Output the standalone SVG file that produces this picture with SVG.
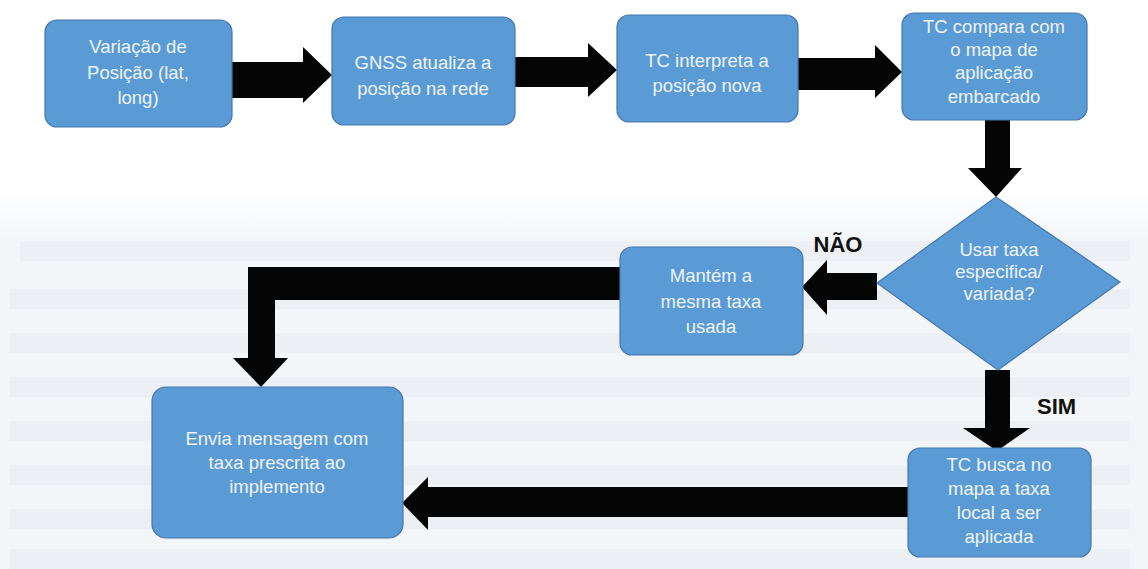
<svg xmlns="http://www.w3.org/2000/svg" width="1148" height="569" viewBox="0 0 1148 569">
<defs>
<linearGradient id="bg" x1="0" y1="0" x2="0" y2="1">
<stop offset="0" stop-color="#ffffff"/>
<stop offset="1" stop-color="#f3f6f9"/>
</linearGradient>
</defs>
<style>
.box{fill:#5b9bd5;stroke:#4577ad;stroke-width:1.2}
.t{font-family:"Liberation Sans",Arial,sans-serif;font-size:18.5px;fill:#eef3fa;text-anchor:middle}
.lbl{font-family:"Liberation Sans",Arial,sans-serif;font-size:22px;font-weight:bold;fill:#111}
.arr{fill:#050505}
.band{fill:#e2e7ed;opacity:0.4}
</style>
<rect width="1148" height="569" fill="#ffffff"/>
<g id="background">
<rect x="0" y="190" width="1148" height="50" fill="url(#bg)"/>
<rect x="0" y="240" width="1148" height="329" fill="#f3f6f9"/>
<rect class="band" x="20" y="241" width="1110" height="20"/>
<rect class="band" x="10" y="289" width="1120" height="20"/>
<rect class="band" x="10" y="333" width="1120" height="20"/>
<rect class="band" x="10" y="377" width="1120" height="20"/>
<rect class="band" x="10" y="421" width="1120" height="20"/>
<rect class="band" x="10" y="465" width="1120" height="20"/>
<rect class="band" x="10" y="509" width="1120" height="20"/>
<rect class="band" x="10" y="549" width="1120" height="20"/>
</g>
<g id="connectors">
<polygon class="arr" points="232,62 303,62 303,47 332,75 303,103 303,98 232,98"/>
<polygon class="arr" points="515,57 588,57 588,43 617,70 588,97 588,87 515,87"/>
<polygon class="arr" points="798,58 875,58 875,45 902,72 875,98 875,90 798,90"/>
<polygon class="arr" points="985,120 1010,120 1010,168 1022,168 996,197 968,168 985,168"/>
<polygon class="arr" points="877,273 827,273 827,260 802,287 827,315 827,300 877,300"/>
<polygon class="arr" points="620,267 248,267 248,358 233,358 261,387 288,358 275,358 275,300 620,300"/>
<polygon class="arr" points="985,370 1010,370 1010,428 1030,428 997,451 963,428 985,428"/>
<polygon class="arr" points="908,487 428,487 428,477 402,503 428,530 428,517 908,517"/>
<text class="lbl" x="838" y="252" text-anchor="middle">NÃO</text>
<text class="lbl" x="1037" y="414">SIM</text>
</g>
<g id="n1">
<rect class="box" x="45" y="20" width="187" height="107" rx="12"/>
<text class="t" x="138" y="53">Variação de</text>
<text class="t" x="138" y="79">Posição (lat,</text>
<text class="t" x="138" y="104">long)</text>
</g>
<g id="n2">
<rect class="box" x="332" y="17" width="183" height="108" rx="12"/>
<text class="t" x="423" y="69">GNSS atualiza a</text>
<text class="t" x="423" y="95">posição na rede</text>
</g>
<g id="n3">
<rect class="box" x="617" y="15" width="181" height="107" rx="12"/>
<text class="t" x="707" y="67">TC interpreta a</text>
<text class="t" x="707" y="92">posição nova</text>
</g>
<g id="n4">
<rect class="box" x="902" y="13" width="185" height="107" rx="12"/>
<text class="t" x="994" y="33">TC compara com</text>
<text class="t" x="994" y="56">o mapa  de</text>
<text class="t" x="994" y="79">aplicação</text>
<text class="t" x="994" y="103">embarcado</text>
</g>
<g id="decision">
<polygon class="box" points="996,197 1120,282 998,370 877,283"/>
<text class="t" x="999" y="256">Usar taxa</text>
<text class="t" x="999" y="278">especifica/</text>
<text class="t" x="999" y="300">variada?</text>
</g>
<g id="n5">
<rect class="box" x="620" y="247" width="183" height="108" rx="12"/>
<text class="t" x="711" y="282">Mantém a</text>
<text class="t" x="711" y="308">mesma taxa</text>
<text class="t" x="711" y="333">usada</text>
</g>
<g id="n6">
<rect class="box" x="908" y="448" width="183" height="109" rx="12"/>
<text class="t" x="999" y="471">TC busca no</text>
<text class="t" x="999" y="495">mapa a taxa</text>
<text class="t" x="999" y="519">local a ser</text>
<text class="t" x="999" y="543">aplicada</text>
</g>
<g id="n7">
<rect class="box" x="152" y="387" width="251" height="151" rx="14"/>
<text class="t" x="277" y="445">Envia mensagem com</text>
<text class="t" x="277" y="469">taxa prescrita ao</text>
<text class="t" x="277" y="493">implemento</text>
</g>
</svg>
